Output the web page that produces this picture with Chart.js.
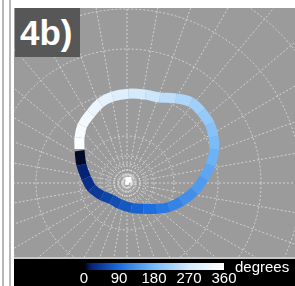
<!DOCTYPE html>
<html><head><meta charset="utf-8">
<script src="https://cdn.jsdelivr.net/npm/chart.js@4/dist/chart.umd.min.js"></script>
<style>
html,body{margin:0;padding:0;background:#fff;}
#page{position:relative;width:295px;height:286px;overflow:hidden;background:#fff;font-family:"Liberation Sans",Arial,sans-serif;}
.vline{position:absolute;top:0;height:286px;width:2px;background:#b8b8b8;}
#panel{position:absolute;left:14px;top:8px;width:281px;height:250px;background:#9b9b9b;overflow:hidden;}
#gridCanvas{position:absolute;left:-137px;top:-75px;}
#ringCanvas{position:absolute;left:0;top:0;}
#label{position:absolute;left:1px;top:0px;width:65px;height:49px;background:#575757;color:#fff;font-weight:bold;font-size:35px;line-height:50px;padding-left:5px;box-sizing:border-box;}
#sep{position:absolute;left:14px;top:257px;width:281px;height:2px;background:#c8c8c8;}
#band{position:absolute;left:14px;top:259px;width:281px;height:27px;background:#000;}
#cbarCanvas{position:absolute;left:64px;top:263px;display:block;}
#deg{position:absolute;left:235px;top:259px;color:#fff;font-size:15px;line-height:16px;}
</style>
</head><body>
<div id="page">
  <div class="vline" style="left:2px"></div>
  <div class="vline" style="left:9px"></div>
  <div id="panel">
    <canvas id="gridCanvas" width="500" height="500"></canvas>
    <canvas id="ringCanvas" width="281" height="250"></canvas>
    <div id="label">4b)</div>
  </div>
  <div id="sep"></div>
  <div id="band"></div>
  <canvas id="cbarCanvas" width="180" height="24"></canvas>
  <div id="deg">degrees</div>
</div>
<script>
// ---- data ----
const gridSpokes = ['0','10','20','30','40','50','60','70','80','90','100','110','120','130','140','150','160','170',
                    '180','190','200','210','220','230','240','250','260','270','280','290','300','310','320','330','340','350'];
const gridRadii = [0, 4, 8, 13, 19, 27, 47, 91, 134, 174, 214, 254];

const ringX = [-52,-50,-45,-39,-28,-18,-9,3,16,30,43,56,70,80,87,91,90,86,77,66,50,33,18,0,-17,-30,-40,-49,-52,-52];
const ringY = [31,16,2,-9,-17,-21,-26,-30,-31,-31,-29,-23,-12,2,16,33,46,60,73,83,87,88,91,92,89,82,71,58,45,33];
const ringPhase = [0,13,25,35,47,56,64,75,86,98,110,122,136,151,163,178,189,202,216,227,241,256,268,285,300,313,325,338,350,360];

const cbarTicks = [0, 90, 180, 270, 360];
const cmapDeg = [0, 20, 90, 180, 270, 360];
const cmapColor = ['#000000', '#06247a', '#1a6de0', '#76baf7', '#d2e9fc', '#ffffff'];

// ---- helpers ----
function hex2rgb(h){return [parseInt(h.slice(1,3),16),parseInt(h.slice(3,5),16),parseInt(h.slice(5,7),16)];}
function cmap(d){
  d = Math.max(0, Math.min(360, d));
  for (let i = 0; i < cmapDeg.length - 1; i++) {
    if (d <= cmapDeg[i+1]) {
      const t = (d - cmapDeg[i]) / (cmapDeg[i+1] - cmapDeg[i]);
      const a = hex2rgb(cmapColor[i]), b = hex2rgb(cmapColor[i+1]);
      return 'rgb(' + a.map((v,k)=>Math.round(v + (b[k]-v)*t)).join(',') + ')';
    }
  }
  return cmapColor[cmapColor.length-1];
}

Chart.defaults.font.family = '"Liberation Sans", Arial, sans-serif';
const gridColor = 'rgba(255,255,255,0.55)';

// polar grid
new Chart(document.getElementById('gridCanvas'), {
  type: 'radar',
  data: { labels: gridSpokes, datasets: [] },
  options: {
    responsive: false, animation: false, devicePixelRatio: 1,
    layout: { padding: 0 },
    plugins: { legend: { display: false }, tooltip: { enabled: false } },
    scales: {
      r: {
        min: 0, max: 250,
        pointLabels: { display: false },
        ticks: { display: false },
        afterBuildTicks: (s) => { s.ticks = gridRadii.map(v => ({ value: v })); },
        grid: { circular: true, color: gridColor, lineWidth: 1 },
        border: { dash: [2, 2] },
        angleLines: { color: gridColor, lineWidth: 1, borderDash: [2, 2] }
      }
    }
  }
});

// ring
new Chart(document.getElementById('ringCanvas'), {
  type: 'scatter',
  data: {
    datasets: [
      {
        data: ringX.map((x, i) => ({ x: x, y: ringY[i] })),
        showLine: true, pointRadius: 0, borderWidth: 10, tension: 0.4,
        borderCapStyle: 'butt',
        borderColor: '#1a6de0',
        segment: { borderColor: (c) => cmap((ringPhase[c.p0DataIndex] + ringPhase[c.p1DataIndex]) / 2) }
      },
      { data: [{ x: 0, y: 0 }], pointStyle: 'rect', pointRadius: 8, backgroundColor: 'rgba(255,255,255,0.25)', borderWidth: 0 },
      { data: [{ x: 0, y: 0 }], pointStyle: 'rect', pointRadius: 4, backgroundColor: '#ffffff', borderWidth: 0 }
    ]
  },
  options: {
    responsive: false, animation: false, devicePixelRatio: 1,
    layout: { padding: 0 },
    plugins: { legend: { display: false }, tooltip: { enabled: false } },
    scales: {
      x: { type: 'linear', min: -113, max: 168, display: false },
      y: { type: 'linear', min: -75, max: 175, display: false }
    }
  }
});

// colour bar
new Chart(document.getElementById('cbarCanvas'), {
  type: 'bar',
  data: {
    labels: ['deg'],
    datasets: [{
      data: [[cbarTicks[0], cbarTicks[cbarTicks.length-1]]],
      barPercentage: 1, categoryPercentage: 1, borderWidth: 0,
      backgroundColor: (c) => {
        const ch = c.chart; const xs = ch.scales.x;
        if (!ch.chartArea || !xs) return '#1a6de0';
        const g = ch.ctx.createLinearGradient(xs.getPixelForValue(0), 0, xs.getPixelForValue(360), 0);
        cmapDeg.forEach((d, i) => g.addColorStop(d / 360, cmapColor[i]));
        return g;
      }
    }]
  },
  options: {
    indexAxis: 'y',
    responsive: false, animation: false, devicePixelRatio: 1,
    layout: { padding: { left: 20, right: 20, top: 0, bottom: 0 } },
    plugins: { legend: { display: false }, tooltip: { enabled: false } },
    scales: {
      x: {
        type: 'linear', min: 0, max: 360,
        afterBuildTicks: (s) => { s.ticks = cbarTicks.map(v => ({ value: v })); },
        afterFit: (s) => { s.height = 17; },
        ticks: { color: '#ffffff', font: { size: 15 }, padding: 0, maxRotation: 0, autoSkip: false },
        grid: { display: false, drawTicks: false },
        border: { display: false }
      },
      y: { display: false }
    }
  }
});
</script>
</body></html>
